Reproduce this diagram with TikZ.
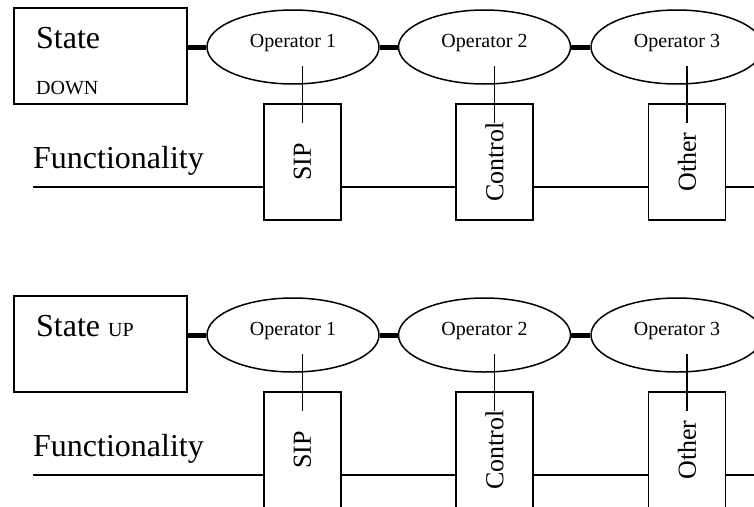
\documentclass[tikz,border=0pt]{standalone}
\usepackage{fontspec}
\setmainfont{Liberation Serif}
\usetikzlibrary{shapes.geometric,calc}

% One row of the diagram: state box, operator chain and functionality bus.
\newcommand\panelbody{%
  \node[statebox] (st) at (100.5,56) {};
  \node[opnode] (o1) at (293,47) {Operator 1};
  \node[opnode] (o2) at (484.5,47) {Operator 2};
  \node[opnode] (o3) at (677,47) {Operator 3};
  \node[funcbox] (f1) at (302.5,162) {SIP};
  \node[funcbox] (f2) at (494.5,162) {Control};
  \node[funcbox] (f3) at (687,162) {Other};
  \node[bigtext] (fn) at (33,168) {Functionality};
  \coordinate (fa) at (33,187);
  \coordinate (fz) at (760,187);
  % thick links along the operator chain
  \draw[link] (st.east |- o1.west) -- (o1.west);
  \draw[link] (o1.east) -- (o2.west);
  \draw[link] (o2.east) -- (o3.west);
  % operator to functionality block
  \foreach \o/\f in {o1/f1, o2/f2, o3/f3}
    \draw[wire] ($(\o.center -| \f.center)+(0,19)$) -- ($(\f.east)+(0,20)$);
  % functionality bus (rotated boxes: north = left side, south = right side)
  \draw[wire] (fa) -- (fa -| f1.north);
  \draw[wire] (fa -| f1.south) -- (fa -| f2.north);
  \draw[wire] (fa -| f2.south) -- (fa -| f3.north);
  \draw[wire] (fa -| f3.south) -- (fz);
}

\begin{document}
\begin{tikzpicture}[x=1pt,y=-1pt,
  wire/.style={line width=1.5pt},
  link/.style={line width=5pt},
  statebox/.style={draw, line width=1.5pt, minimum width=173pt, minimum height=96pt, inner sep=0pt},
  opnode/.style={draw, ellipse, line width=1.5pt, minimum width=172pt, minimum height=74pt,
    inner sep=0pt, text height=10pt, text depth=10pt, font=\fontsize{20}{24}\selectfont},
  funcbox/.style={draw, rotate=90, line width=1.5pt, minimum width=116pt, minimum height=77pt,
    inner sep=0pt, font=\fontsize{26}{30}\selectfont},
  bigtext/.style={font=\fontsize{32}{38}\selectfont, inner sep=0pt, anchor=base west},
  smalltext/.style={font=\fontsize{20}{24}\selectfont, inner sep=0pt, anchor=base west}]
  \useasboundingbox (0,0) rectangle (754,506);
  \clip (0,0) rectangle (754,506);

  \begin{scope}[name prefix=down-]
    \panelbody
    \node[bigtext] (stlabel) at (36,48) {State};
    \node[smalltext] (stvalue) at (36,94) {DOWN};
  \end{scope}

  \begin{scope}[yshift=-288pt, name prefix=up-]
    \panelbody
    \node[bigtext] (stlabel) at (36,48) {State {\fontsize{20}{24}\selectfont UP}};
  \end{scope}
\end{tikzpicture}
\end{document}
